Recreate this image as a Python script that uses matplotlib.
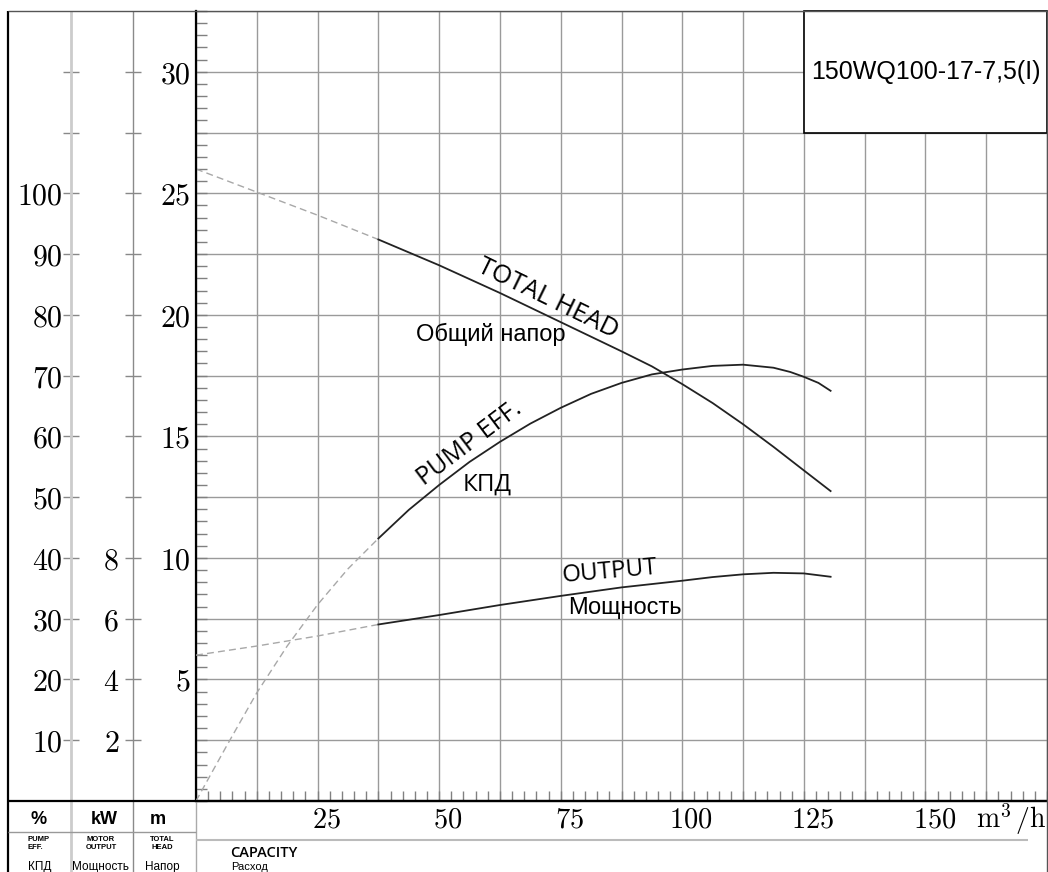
import numpy as np
import matplotlib
matplotlib.use('Agg')
import matplotlib.pyplot as plt
from matplotlib.patches import Rectangle
from matplotlib.ticker import MultipleLocator, FixedLocator, FuncFormatter

plt.rcParams['mathtext.fontset'] = 'cm'

# ---------------- data ----------------
# Total head (m) vs capacity (m3/h)
head_q_dash = [0, 12.5, 25, 37.5]
head_h_dash = [26.0, 25.05, 24.1, 23.1]
head_q = [37.5, 50, 62.5, 75, 87.5, 93.75, 100, 106.25, 112.5, 118.75, 125, 130.5]
head_h = [23.1, 22.04, 20.9, 19.7, 18.5, 17.88, 17.15, 16.37, 15.5, 14.57, 13.6, 12.75]

# Pump efficiency (%)
eff_q_dash = [0, 6.25, 12.5, 18.75, 25, 31.25, 37.5]
eff_dash = [0, 9.0, 17.8, 25.5, 32.3, 38.2, 43.2]
eff_q = [37.5, 43.75, 50, 56.25, 62.5, 68.75, 75, 81.25, 87.5, 93.75, 100,
         106.25, 112.5, 118.75, 122.2, 125, 128, 130.5]
eff = [43.2, 47.9, 52.0, 55.8, 59.1, 62.1, 64.7, 67.0, 68.8, 70.2, 71.0,
       71.6, 71.8, 71.3, 70.6, 69.8, 68.8, 67.5]

# Motor output (kW)
out_q_dash = [0, 12.5, 25, 37.5]
out_dash = [4.8, 5.1, 5.43, 5.81]
out_q = [37.5, 50, 62.5, 75, 87.5, 100, 106.25, 112.5, 118.75, 125, 130.5]
out = [5.81, 6.12, 6.45, 6.75, 7.03, 7.25, 7.37, 7.46, 7.51, 7.49, 7.38]

# tick labels
x_labels = [25, 50, 75, 100, 125, 150]
head_labels = [5, 10, 15, 20, 25, 30]
pct_labels = [10, 20, 30, 40, 50, 60, 70, 80, 90, 100]
kw_labels = [2, 4, 6, 8]
model = '150WQ100-17-7,5(I)'

# ---------------- figure ----------------
W, H = 1048, 872
fig = plt.figure(figsize=(W / 100, H / 100), dpi=100)
fig.patch.set_facecolor('white')
L, R, T, B = 196, 1047, 11, 801
ax = fig.add_axes([L / W, 1 - B / H, (R - L) / W, (B - T) / H])
ax.set_xlim(0, 175)
ax.set_ylim(0, 32.5)

GRID = '#9a9a9a'
ax.xaxis.set_major_locator(MultipleLocator(12.5))
ax.xaxis.set_minor_locator(MultipleLocator(2.5))
ax.yaxis.set_major_locator(MultipleLocator(2.5))
ax.yaxis.set_minor_locator(MultipleLocator(0.5))
ax.grid(True, which='major', color=GRID, lw=1)
ax.set_axisbelow(True)


def head_fmt(v, p):
    r = int(round(v))
    if abs(v - r) < 1e-6 and r in head_labels:
        return f'${r}$'
    return ''


ax.yaxis.set_major_formatter(FuncFormatter(head_fmt))
ax.tick_params(axis='y', which='both', direction='in', length=8, width=1,
               color='#808080', pad=4, labelsize=21.5)
ax.tick_params(axis='x', which='both', direction='in', length=7, width=1,
               color='#808080', labelbottom=False)
for s in ['top', 'right']:
    ax.spines[s].set_visible(False)
ax.spines['left'].set_linewidth(1.6)
ax.spines['bottom'].set_linewidth(1.6)

# percentage axis
axp = ax.twinx()
axp.set_ylim(0, 130)
axp.yaxis.set_ticks_position('left')
axp.spines['left'].set_position(('axes', (71 - L) / (R - L)))
for s in axp.spines.values():
    s.set_visible(False)
axp.yaxis.set_major_locator(FixedLocator(np.arange(10, 130, 10)))
axp.yaxis.set_major_formatter(FuncFormatter(
    lambda v, p: f'${int(round(v))}$' if int(round(v)) in pct_labels else ''))
axp.tick_params(axis='y', direction='inout', length=12, width=1,
                color='#888888', pad=0, labelsize=21.5)

# kW axis
axk = ax.twinx()
axk.set_ylim(0, 26)
axk.yaxis.set_ticks_position('left')
axk.spines['left'].set_position(('axes', (133 - L) / (R - L)))
for s in axk.spines.values():
    s.set_visible(False)
axk.yaxis.set_major_locator(FixedLocator(np.arange(2, 26, 2)))
axk.yaxis.set_major_formatter(FuncFormatter(
    lambda v, p: f'${int(round(v))}$' if int(round(v)) in kw_labels else ''))
axk.tick_params(axis='y', direction='inout', length=12, width=1,
                color='#888888', pad=4, labelsize=21.5)

# curves
DASH = dict(color='#a8a8a8', lw=1.0, ls=(0, (5, 3)))
SOLID = dict(color='#222222', lw=1.3)
ax.plot(head_q_dash, head_h_dash, **DASH)
ax.plot(head_q, head_h, **SOLID)
axp.plot(eff_q_dash, eff_dash, **DASH)
axp.plot(eff_q, eff, **SOLID)
axk.plot(out_q_dash, out_dash, **DASH)
axk.plot(out_q, out, **SOLID)

# model box
ax.add_patch(Rectangle((125, 27.5), 50, 5, facecolor='white', edgecolor='black',
                       lw=1.2, zorder=2.5, clip_on=False))
ax.text(150, 30, model, ha='center', va='center', fontsize=18,
        family='Liberation Sans', zorder=3)

# curve labels
ax.text(72.4, 20.68, 'TOTAL HEAD', rotation=-26, rotation_mode='anchor',
        ha='center', va='center', family='Open Sans', fontsize=18.5)
ax.text(60.6, 19.2, 'Общий напор', ha='center', va='center',
        family='Liberation Sans', fontsize=17)
ax.text(56.3, 14.72, 'PUMP EFF.', rotation=37, rotation_mode='anchor',
        ha='center', va='center', family='Open Sans', fontsize=18)
ax.text(59.9, 13.0, 'КПД', ha='center', va='center', family='Open Sans',
        fontsize=17.5)
ax.text(85.1, 9.43, 'OUTPUT', rotation=5, rotation_mode='anchor',
        ha='center', va='center', family='Open Sans', fontsize=17.5)
ax.text(88.2, 7.94, 'Мощность', ha='center', va='center',
        family='Liberation Sans', fontsize=17)

# capacity labels
for v in x_labels:
    ax.annotate(f'${v}$', xy=(v, 0), xycoords='data', xytext=(9, -18),
                textcoords='offset pixels', ha='center', va='center',
                fontsize=20.5, annotation_clip=False)
ax.annotate(r'$\mathrm{m}^{\mathsf{3}}\,/\mathrm{h}$', xy=(1, 0),
            xycoords='axes fraction', xytext=(0, -18),
            textcoords='offset pixels', ha='right', va='center', fontsize=20,
            annotation_clip=False)

# ---------------- overlay frame / table ----------------
ov = fig.add_axes([0, 0, 1, 1])
ov.set_xlim(0, W)
ov.set_ylim(H, 0)
ov.axis('off')
ov.patch.set_visible(False)


def seg(x0, y0, x1, y1, c, lw):
    ov.plot([x0, x1], [y0, y1], color=c, lw=lw, solid_capstyle='butt')


seg(8, T, 8, H, 'black', 1.6)
seg(71, T, 71, H, '#cccccc', 2.0)
seg(133, T, 133, H, '#8a8a8a', 1.0)
seg(L, B, L, H, '#aaaaaa', 1.0)
seg(8, B, R, B, 'black', 1.6)
seg(8, T, R, T, '#555555', 1.0)
seg(R, T, R, H, '#555555', 1.0)
seg(8, 832, L, 832, '#999999', 1.0)
seg(L, 840, 1028, 840, '#bbbbbb', 1.5)

SANS = 'Liberation Sans'
ov.text(38.5, 819, '%', ha='center', va='center', fontsize=13,
        fontweight='bold', family=SANS)
ov.text(104, 819, 'kW', ha='center', va='center', fontsize=13,
        fontweight='bold', family=SANS)
ov.text(158, 819, 'm', ha='center', va='center', fontsize=13,
        fontweight='bold', family=SANS)
ov.text(28, 843.5, 'PUMP\nEFF.', ha='left', va='center', fontsize=5.5,
        fontweight='bold', family=SANS, linespacing=1.2)
ov.text(101, 843.5, 'MOTOR\nOUTPUT', ha='center', va='center', fontsize=5.5,
        fontweight='bold', family=SANS, linespacing=1.2)
ov.text(162, 843.5, 'TOTAL\nHEAD', ha='center', va='center', fontsize=5.5,
        fontweight='bold', family=SANS, linespacing=1.2)
ov.text(28, 867, 'КПД', ha='left', va='center', fontsize=8.5, family=SANS)
ov.text(72, 867, 'Мощность', ha='left', va='center', fontsize=8.5, family=SANS)
ov.text(162, 867, 'Напор', ha='center', va='center', fontsize=8.5, family=SANS)
ov.text(230, 853, 'CAPACITY', ha='left', va='center', fontsize=10.5,
        fontweight='semibold', family='Open Sans')
ov.text(231, 866.5, 'Расход', ha='left', va='center', fontsize=8, family=SANS)

fig.savefig('out.png', dpi=100, facecolor='white')
